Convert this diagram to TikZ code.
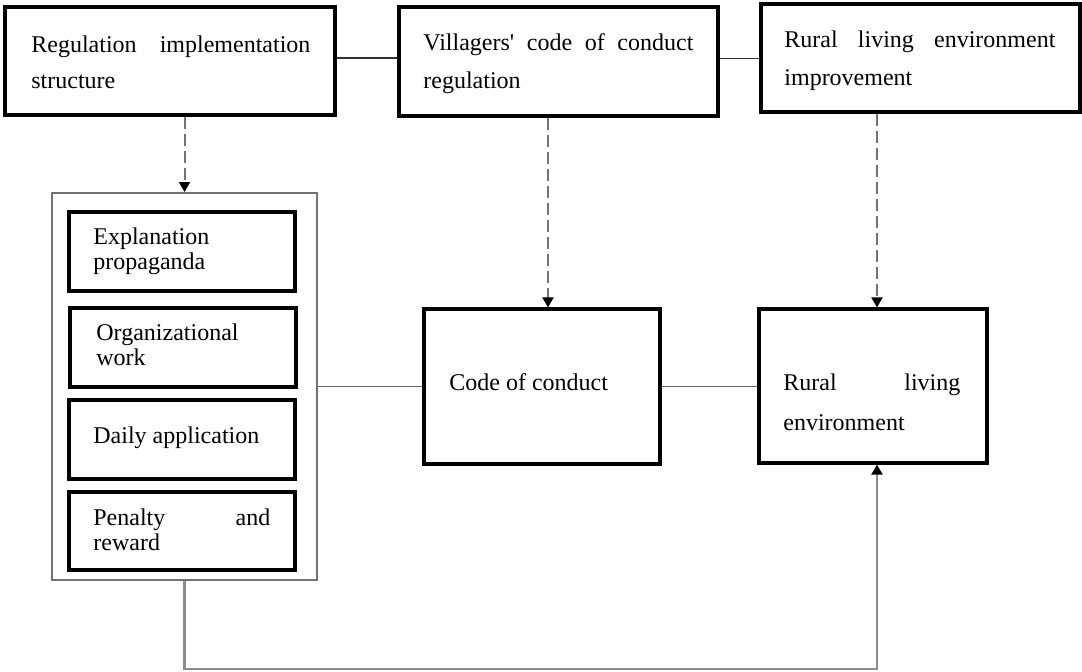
\documentclass[tikz,border=0pt]{standalone}
\usepackage{fontspec}
\setmainfont{Liberation Serif}
\usetikzlibrary{fit,arrows.meta}
\begin{document}
\begin{tikzpicture}[x=0.5pt,y=-0.5pt,
  box/.style={draw=black,line width=1.6pt,inner sep=0pt,fill=none},
  cont/.style={draw=black!55,line width=1pt,inner sep=0pt},
  txt/.style={inner sep=0pt,anchor=base west,align=left},
  link/.style={draw=black!60,line width=0.8pt},
  dasharrow/.style={draw=black!55,line width=1pt,dash pattern=on 6pt off 2.5pt,-{Triangle[width=5.5pt,length=5pt,black]}},
  solidarrow/.style={draw=black!45,line width=1.1pt,-{Triangle[width=5.5pt,length=5pt,black]}}]
\useasboundingbox (0,0) rectangle (1082,671);
\fill[white] (0,0) rectangle (1082,671);
% top boxes
\node[box,fit={(5,7) (335,115)}] (b1) {};
\node[box,fit={(399,7) (718,116)}] (b2) {};
\node[box,fit={(761,4) (1080,112)}] (b3) {};
\node[txt,text width=139.5pt,font=\fontsize{12}{18}\selectfont] (t1) at (31,52) {Regulation\hfill implementation\\structure};
\node[txt,text width=135pt,font=\fontsize{12}{19}\selectfont] (t2) at (423,50) {Villagers\textquotesingle\hfill code\hfill of\hfill conduct\\regulation};
\node[txt,text width=135.5pt,font=\fontsize{12}{19}\selectfont] (t3) at (784,47) {Rural\hfill living\hfill environment\\improvement};
% container and inner boxes
\node[cont,fit={(52,193) (317,580)}] (cont) {};
\node[box,fit={(69,212) (295,291)}] (ia) {};
\node[box,fit={(70,308) (296,387)}] (ib) {};
\node[box,fit={(69,400) (295,479)}] (ic) {};
\node[box,fit={(69,492) (295,570)}] (id) {};
\node[txt,text width=95pt,font=\fontsize{12}{12.5}\selectfont] (ta) at (93,244) {Explanation\\propaganda};
\node[txt,text width=95pt,font=\fontsize{12}{12.5}\selectfont] (tb) at (96,340) {Organizational\\work};
\node[txt,font=\fontsize{12}{12.5}\selectfont] (tc) at (93,443) {Daily application};
\node[txt,text width=88.5pt,font=\fontsize{12}{12.5}\selectfont] (td) at (93,525) {Penalty\hfill and\\reward};
% middle boxes
\node[box,fit={(424,309) (660,464)}] (code) {};
\node[box,fit={(759,309) (987,463)}] (rural) {};
\node[txt,font=\fontsize{12}{14}\selectfont] (tcode) at (449,390) {Code of conduct};
\node[txt,text width=88.5pt,font=\fontsize{12}{20}\selectfont] (tr) at (783,390) {Rural\hfill living\\environment};
% helper coordinates
\coordinate (a2) at (548,0);
\coordinate (a3) at (877,0);
\coordinate (bot) at (0,669);
% connectors
\draw[link,draw=black!80] ([yshift=1.5pt]b1.east) -- ([yshift=1.5pt]b1.east -| b2.west);
\draw[link,draw=black!80] ([yshift=1.5pt]b2.east) -- ([yshift=1.5pt]b2.east -| b3.west);
\draw[link] (cont.east) -- (cont.east -| code.west);
\draw[link] (code.east) -- (code.east -| rural.west);
\draw[dasharrow] (b1.south -| cont.north) -- (cont.north);
\draw[dasharrow] (b2.south -| a2) -- (code.north -| a2);
\draw[dasharrow] (b3.south -| a3) -- (rural.north -| a3);
\draw[solidarrow] (cont.south) -- (cont.south |- bot) -| (rural.south -| a3);
\end{tikzpicture}
\end{document}
